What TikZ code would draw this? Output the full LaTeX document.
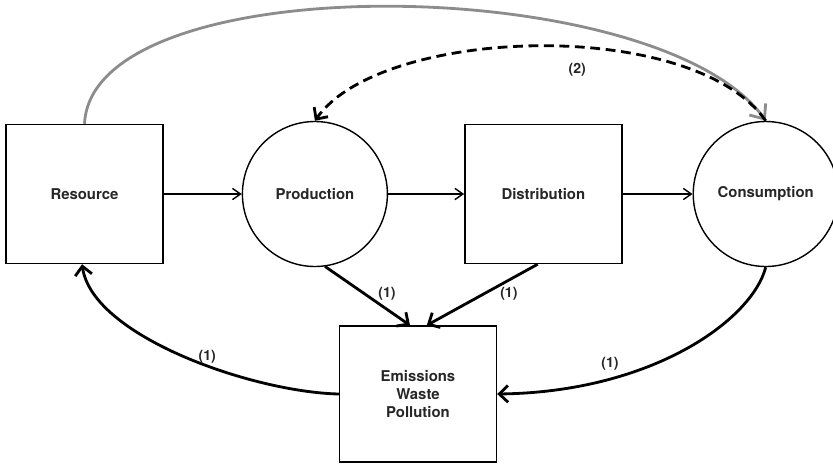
\documentclass[tikz,border=0pt]{standalone}
\usepackage{fontspec}
\setmainfont{TeX Gyre Heros}
\usetikzlibrary{arrows.meta}
\usetikzlibrary{positioning}

\begin{document}
\begin{tikzpicture}[->,>={Straight Barb[length=0.2cm,width=0.28cm]},
			line width=1pt,text=black!85]
			\tikzstyle{block}=[draw,rectangle,minimum width=3.925cm,minimum height=3.475cm,
			  align=center,font=\bfseries\fontsize{10.6}{12.8}\selectfont]
			\tikzstyle{phase}=[draw,circle,minimum size=3.625cm,
			  font=\bfseries\fontsize{10.6}{12.8}\selectfont]
			\tikzstyle{flow}=[line width=2pt,-{Straight Barb[length=0.22cm,width=0.42cm]}]
			\tikzstyle{lbl}=[font=\bfseries\fontsize{10}{12}\selectfont]
			
			\useasboundingbox (0,0) rectangle (20.825,-11.6);
			
			\node[block]  (res)  at (2.1125,-4.85)       {Resource};
			\node[phase]  (prod) [right=1.95cm of res]   {Production};
			\node[block]  (dist) [right=1.9cm of prod]   {Distribution};
			\node[phase]  (cons) [right=1.75cm of dist]  {Consumption};
			\node[block,minimum height=3.4cm] (ems) at (10.45,-9.85) {Emissions\\Waste\\Pollution};
			
			\path (res)  edge (prod)
			(prod) edge (dist)
			(dist) edge (cons)
			(prod.-82) edge[flow] node[lbl,pos=.73,above=2pt] {(1)} ([xshift=-0.2cm]ems.north)
			([xshift=-0.14cm]dist.south) edge[flow] node[lbl,pos=.26,below=1pt] {(1)} ([xshift=0.22cm]ems.north)
			;
			
			\draw[flow] (cons.south) .. controls (18.8,-8.0) and (16.3,-9.8) ..
			  node[lbl,pos=.73,above=2pt] {(1)} (ems.east);
			\draw[flow] (ems.west) .. controls (6.3,-9.8) and (2.3,-8.4) ..
			  node[lbl,pos=.42,above,inner sep=1pt] {(1)} ([xshift=-0.06cm]res.south);
			
			% gray loop over the top, then the dashed feedback
			\draw[line width=2pt,draw=black!45,-{Straight Barb[length=0.3cm,width=0.5cm]}]
			  (res.north) .. controls (2.3,0.9) and (16.5,0.7) .. (cons.north);
			\draw[flow,dash pattern=on 7pt off 4pt]
			  (cons.north) .. controls (17.3,-0.4) and (9.52,-0.66) ..
			  node[lbl,pos=.43,below=7pt] {(2)} (prod.north);
\end{tikzpicture}
\end{document}
